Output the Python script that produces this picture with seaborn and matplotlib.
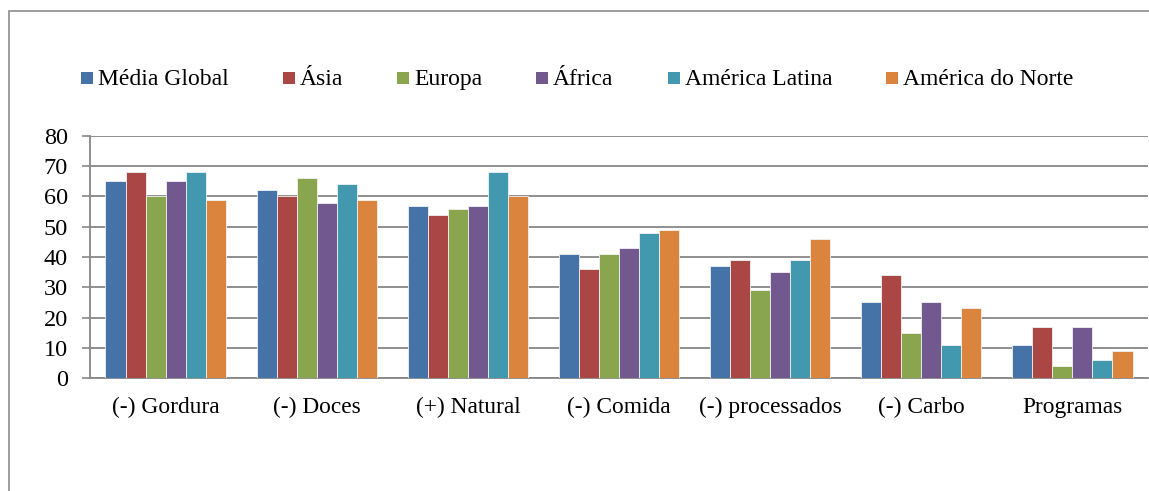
import matplotlib
matplotlib.use("Agg")
import matplotlib.pyplot as plt
from matplotlib.patches import Rectangle
import seaborn as sns
import pandas as pd

categories = ["(-) Gordura", "(-) Doces", "(+) Natural", "(-) Comida",
              "(-) processados", "(-) Carbo", "Programas"]
regions = ["Média Global", "Ásia", "Europa", "África",
           "América Latina", "América do Norte"]

media_global = [65, 62, 57, 41, 37, 25, 11]
asia = [68, 60, 54, 36, 39, 34, 17]
europa = [60, 66, 56, 41, 29, 15, 4]
africa = [65, 58, 57, 43, 35, 25, 17]
america_latina = [68, 64, 68, 48, 39, 11, 6]
america_norte = [59, 59, 60, 49, 46, 23, 9]

y_ticks = [0, 10, 20, 30, 40, 50, 60, 70, 80]

colors = ["#4572A7", "#AA4643", "#89A54E", "#71588F", "#4198AF", "#DB843D"]

series = [media_global, asia, europa, africa, america_latina, america_norte]
rows = []
for region, values in zip(regions, series):
    for cat, v in zip(categories, values):
        rows.append({"categoria": cat, "regiao": region, "valor": v})
df = pd.DataFrame(rows)

sns.set_theme(style="white")
plt.rcParams["font.family"] = ["Liberation Serif", "DejaVu Serif"]

W, H = 1149, 491
fig = plt.figure(figsize=(W / 100, H / 100), dpi=100)
fig.patch.set_facecolor("white")

# outer frame (only top and left edges fall inside the canvas)
fig.patches.append(Rectangle((9 / W, -0.2), 1.5, 1.2 - 11 / H,
                             transform=fig.transFigure, fill=False,
                             edgecolor="#8c8c8c", linewidth=1.2, zorder=0))

ax = fig.add_axes([90 / W, 1 - 378 / H, (1148 - 90) / W, (378 - 136) / H])

sns.barplot(data=df, x="categoria", y="valor", hue="regiao",
            hue_order=regions, order=categories, palette=colors,
            width=0.795, errorbar=None, edgecolor="#f2f2f2",
            linewidth=0.6, saturation=1, legend=False, ax=ax, zorder=3)

ax.set_ylim(0, 80)
ax.set_yticks(y_ticks)
ax.set_xlabel("")
ax.set_ylabel("")
ax.yaxis.grid(True, color="#878787", linewidth=1.3, zorder=0)
ax.xaxis.grid(False)
ax.set_axisbelow(True)

for side in ["top", "right"]:
    ax.spines[side].set_visible(False)
for side in ["left", "bottom"]:
    ax.spines[side].set_color("#878787")
    ax.spines[side].set_linewidth(1.3)

ax.tick_params(axis="y", which="major", left=True, length=5.8, width=1.2,
               color="#878787", pad=10, labelsize=17.5, labelcolor="black")
ax.tick_params(axis="x", which="major", bottom=False, length=0, pad=13.5,
               labelsize=16.8, labelcolor="black")

# single-row legend: colour squares followed by labels on a shared baseline
renderer = fig.canvas.get_renderer()
x_px = 81.0
for label, color in zip(regions, colors):
    fig.patches.append(Rectangle((x_px / W, 1 - 84 / H), 12 / W, 12 / H,
                                 transform=fig.transFigure, facecolor=color,
                                 edgecolor="none"))
    t = fig.text((x_px + 17) / W, 1 - 85.5 / H, label, fontsize=17,
                 ha="left", va="baseline", color="black")
    bb = t.get_window_extent(renderer)
    x_px = bb.x1 + 54

fig.savefig("out.png", dpi=100, facecolor="white")
